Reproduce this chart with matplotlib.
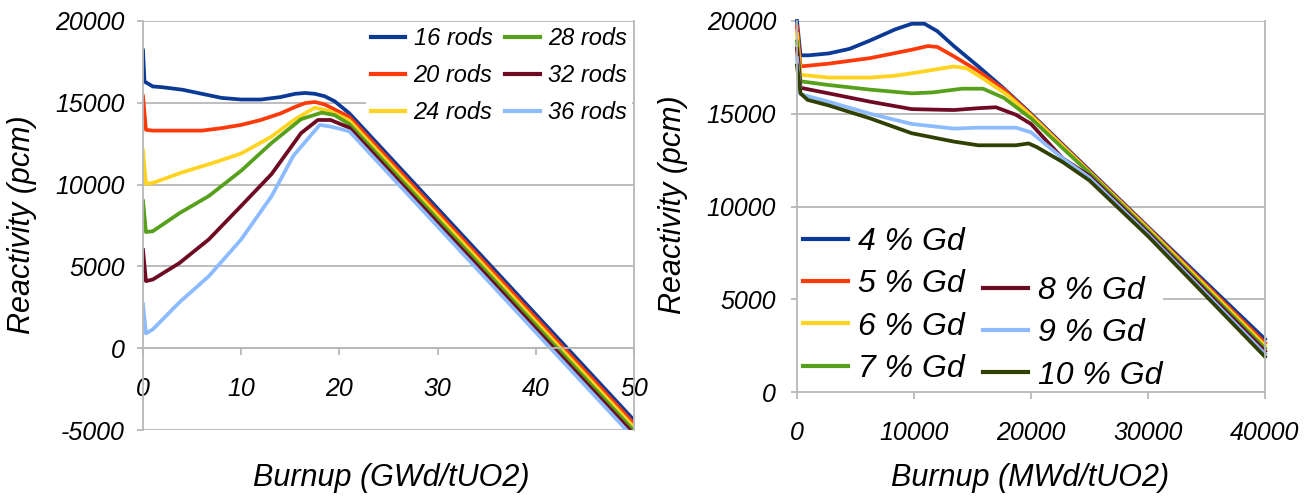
import matplotlib
matplotlib.use("Agg")
import matplotlib.pyplot as plt
from matplotlib.patches import Rectangle

plt.rcParams['font.family'] = ['Liberation Sans', 'DejaVu Sans']
plt.rcParams['font.style'] = 'italic'

# ---------------- Left panel: number of rods ----------------
rod_labels = ["16 rods", "20 rods", "24 rods", "28 rods", "32 rods", "36 rods"]
rod_colors = ["#0b3a96", "#ff3a0a", "#ffd320", "#57a01c", "#6e0a22", "#8cbcff"]

x16 = [0, 0.15, 1, 2, 4, 6, 8, 10, 12, 14, 15.5, 16.5, 17.5, 18.5, 19.5, 21, 50]
y16 = [18200, 16300, 16000, 15950, 15800, 15550, 15300, 15200, 15200, 15350, 15550, 15600, 15550, 15400, 15100, 14363, -4400]
x20 = [0, 0.3, 1, 3, 6, 8, 10, 12, 14, 15.5, 16.5, 17.5, 18.5, 21, 50]
y20 = [15400, 13350, 13300, 13300, 13300, 13450, 13650, 13950, 14350, 14750, 14980, 15050, 14900, 14143, -4620]
x24 = [0, 0.3, 1, 4, 7, 10, 13, 15.5, 17.5, 19, 21, 50]
y24 = [12100, 10050, 10100, 10750, 11300, 11900, 12900, 14000, 14700, 14500, 13923, -4840]
x28 = [0, 0.3, 1, 3.7, 6.7, 10, 13.1, 16.1, 18.2, 19.5, 21, 50]
y28 = [9000, 7100, 7150, 8250, 9300, 10850, 12550, 14000, 14400, 14250, 13703, -5060]
x32 = [0, 0.3, 1, 3.7, 6.7, 10, 13.1, 16.1, 17.8, 19.1, 21, 50]
y32 = [6000, 4100, 4200, 5200, 6650, 8700, 10650, 13150, 13950, 13950, 13483, -5280]
x36 = [0, 0.3, 1, 3.7, 6.7, 10, 13.1, 15.3, 18, 19.1, 21, 50]
y36 = [2700, 900, 1150, 2800, 4400, 6650, 9300, 11750, 13650, 13550, 13263, -5500]

rods_x = [x16, x20, x24, x28, x32, x36]
rods_y = [y16, y20, y24, y28, y32, y36]

left_xticks = [0, 10, 20, 30, 40, 50]
left_yticks = [-5000, 0, 5000, 10000, 15000, 20000]

# ---------------- Right panel: Gd content ----------------
gd_labels = ["4 % Gd", "5 % Gd", "6 % Gd", "7 % Gd", "8 % Gd", "9 % Gd", "10 % Gd"]
gd_colors = ["#0b3a96", "#ff3a0a", "#ffd320", "#57a01c", "#6e0a22", "#8cbcff", "#304000"]

g4x = [0, 300, 1000, 2700, 4500, 6250, 8400, 9800, 10900, 12000, 13400, 15500, 17700, 20000, 22700, 25000, 30000, 40000]
g4y = [20000, 18150, 18150, 18250, 18500, 18950, 19550, 19850, 19850, 19450, 18650, 17550, 16350, 15000, 13350, 11950, 8900, 2850]
g5x = [0, 300, 2700, 6250, 9800, 11200, 12000, 13400, 15500, 17700, 20000, 22700, 25000, 30000, 40000]
g5y = [19700, 17550, 17700, 18000, 18450, 18650, 18600, 18100, 17300, 16300, 14950, 13300, 11900, 8850, 2650]
g6x = [0, 300, 2700, 6250, 8400, 10500, 13400, 14500, 15900, 18000, 20000, 22700, 25000, 30000, 40000]
g6y = [19300, 17100, 16950, 16950, 17050, 17250, 17550, 17450, 16900, 16000, 14900, 13250, 11850, 8800, 2500]
g7x = [0, 300, 2700, 6250, 9800, 11600, 14100, 15900, 17700, 20000, 22700, 25000, 30000, 40000]
g7y = [18900, 16750, 16550, 16300, 16100, 16150, 16350, 16350, 15850, 14750, 13150, 11800, 8700, 2350]
g8x = [0, 300, 2700, 6250, 9800, 13400, 15500, 17000, 18700, 20000, 22700, 25000, 30000, 40000]
g8y = [18500, 16400, 16100, 15650, 15250, 15200, 15300, 15350, 14950, 14450, 12600, 11650, 8600, 2200]
g9x = [0, 300, 2700, 6250, 9800, 13400, 15500, 18700, 20000, 22700, 25000, 30000, 40000]
g9y = [18000, 16050, 15650, 15000, 14450, 14200, 14250, 14250, 14000, 12600, 11550, 8500, 2050]
g10x = [0, 300, 900, 2700, 6250, 9800, 13400, 15500, 18700, 19800, 20500, 22700, 25000, 30000, 40000]
g10y = [17600, 16100, 15750, 15450, 14750, 13950, 13500, 13300, 13300, 13400, 13200, 12400, 11400, 8400, 1900]

gd_x = [g4x, g5x, g6x, g7x, g8x, g9x, g10x]
gd_y = [g4y, g5y, g6y, g7y, g8y, g9y, g10y]

right_xticks = [0, 10000, 20000, 30000, 40000]
right_yticks = [0, 5000, 10000, 15000, 20000]

GRID = "#b8b8b8"
LW = 2.7

fig = plt.figure(figsize=(13.12, 4.97), dpi=100)
axL = fig.add_axes([143 / 1312, 67 / 497, 491 / 1312, 409 / 497])
axR = fig.add_axes([797 / 1312, 105 / 497, 468 / 1312, 371 / 497])


def style(ax, xticks, yticks, xlim, ylim, ypad):
    ax.set_xlim(*xlim)
    ax.set_ylim(*ylim)
    ax.set_xticks(xticks)
    ax.set_yticks(yticks)
    ax.set_xticklabels([str(t) for t in xticks])
    ax.set_yticklabels([str(t) for t in yticks])
    ax.set_axisbelow(True)
    ax.yaxis.grid(True, color=GRID, lw=1.3)
    ax.xaxis.grid(False)
    for s in ["left", "right", "bottom"]:
        ax.spines[s].set_color(GRID)
        ax.spines[s].set_linewidth(1.3)
    ax.spines["top"].set_visible(False)
    ax.spines["bottom"].set_position(("data", 0))
    ax.tick_params(axis="x", direction="out", length=5, width=1.3, color=GRID,
                   pad=16, labelsize=18)
    ax.tick_params(axis="y", direction="out", length=4, width=1.3, color=GRID,
                   pad=ypad, labelsize=18)


style(axL, left_xticks, left_yticks, (0, 50), (-5000, 20000), 9)
style(axR, right_xticks, right_yticks, (0, 40000), (0, 20000), 11)

for xs, ys, c, lab in zip(rods_x, rods_y, rod_colors, rod_labels):
    axL.plot(xs, ys, color=c, lw=LW, label=lab, solid_joinstyle="round")

for xs, ys, c, lab in zip(gd_x, gd_y, gd_colors, gd_labels):
    axR.plot(xs, ys, color=c, lw=LW, label=lab, solid_joinstyle="round", clip_on=False)

# Left legend
hL, lL = axL.get_legend_handles_labels()
legL = axL.legend(hL, lL, ncol=2, loc="upper right", bbox_to_anchor=(0.995, 0.997),
                  fontsize=17, frameon=True, facecolor="white", edgecolor="none",
                  framealpha=1, handlelength=1.45, handletextpad=0.35,
                  columnspacing=0.55, labelspacing=0.6, borderpad=0.2,
                  borderaxespad=0.0)
for h in legL.legend_handles:
    h.set_linewidth(3.0)

# Right legend: white background box, then two columns
axR.add_patch(Rectangle((0, 0), 0.782, 0.458, transform=axR.transAxes,
                        facecolor="white", edgecolor="none", zorder=1.5))
hR, lR = axR.get_legend_handles_labels()
common = dict(fontsize=23, frameon=False, handlelength=1.41, handletextpad=0.3,
              labelspacing=0.38, borderpad=0.1, borderaxespad=0.0)
legA = axR.legend(hR[:4], lR[:4], loc="center left", bbox_to_anchor=(0.0064, 0.233), **common)
axR.add_artist(legA)
legB = axR.legend(hR[4:], lR[4:], loc="center left", bbox_to_anchor=(0.391, 0.158), **common)
for lg in (legA, legB):
    for h in lg.legend_handles:
        h.set_linewidth(3.0)

# Axis labels
axL.set_ylabel("Reactivity (pcm)", fontsize=22)
axL.yaxis.set_label_coords(-0.246, 0.501)
axL.yaxis.label.set_va("center")
axL.set_xlabel("Burnup (GWd/tUO2)", fontsize=22)
axL.xaxis.set_label_coords(0.505, -0.117)
axL.xaxis.label.set_va("center")

axR.set_ylabel("Reactivity (pcm)", fontsize=22)
axR.yaxis.set_label_coords(-0.265, 0.504)
axR.yaxis.label.set_va("center")
axR.set_xlabel("Burnup (MWd/tUO2)", fontsize=22)
axR.xaxis.set_label_coords(0.498, -0.232)
axR.xaxis.label.set_va("center")

fig.savefig("out.png", dpi=100, facecolor="white")
